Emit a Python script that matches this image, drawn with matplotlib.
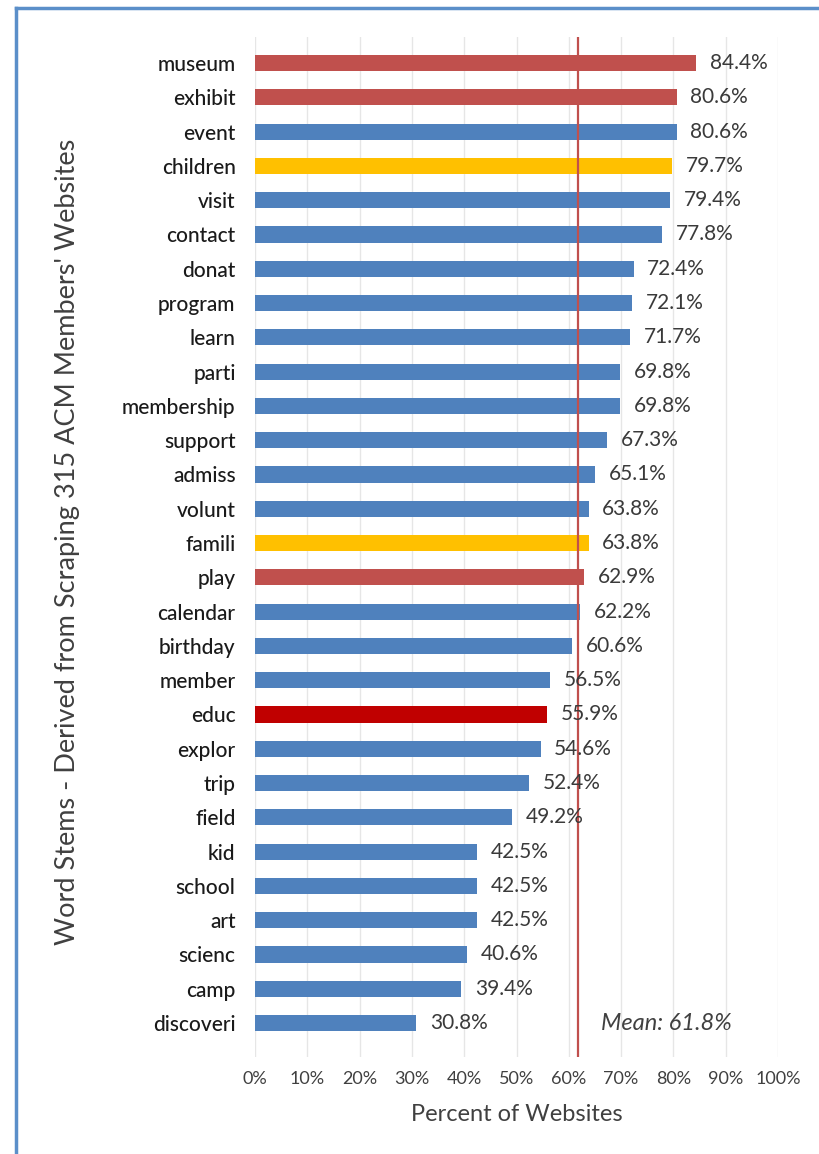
import matplotlib
matplotlib.use("Agg")
import matplotlib.pyplot as plt
from matplotlib.lines import Line2D

stems = ["museum", "exhibit", "event", "children", "visit", "contact", "donat",
         "program", "learn", "parti", "membership", "support", "admiss", "volunt",
         "famili", "play", "calendar", "birthday", "member", "educ", "explor",
         "trip", "field", "kid", "school", "art", "scienc", "camp", "discoveri"]
percents = [84.4, 80.6, 80.6, 79.7, 79.4, 77.8, 72.4, 72.1, 71.7, 69.8, 69.8,
            67.3, 65.1, 63.8, 63.8, 62.9, 62.2, 60.6, 56.5, 55.9, 54.6, 52.4,
            49.2, 42.5, 42.5, 42.5, 40.6, 39.4, 30.8]
groups = ["red", "red", "blue", "yellow", "blue", "blue", "blue", "blue", "blue",
          "blue", "blue", "blue", "blue", "blue", "yellow", "red", "blue", "blue",
          "blue", "darkred", "blue", "blue", "blue", "blue", "blue", "blue",
          "blue", "blue", "blue"]
mean_value = 61.8
xticks = [0, 10, 20, 30, 40, 50, 60, 70, 80, 90, 100]
xticklabels = [f"{t}%" for t in xticks]

palette = {"blue": "#4F81BD", "red": "#C0504D", "yellow": "#FFC000",
           "darkred": "#C00000"}

plt.rcParams['font.family'] = ['Lato', 'DejaVu Sans']

fig = plt.figure(figsize=(8.19, 11.54), dpi=100)
ax = fig.add_axes([255/819, 1 - 1057/1154, (778 - 255)/819, (1057 - 37)/1154])

ypos = list(range(len(stems)))
ax.barh(ypos, percents, height=0.47, color=[palette[g] for g in groups], zorder=2)
for y, v in zip(ypos, percents):
    ax.text(v + 2.6, y, f"{v:.1f}%", va="center", ha="left", fontsize=15,
            color="#3a3a3a", zorder=4)

ax.set_xlim(0, 100)
ax.set_ylim(28.99, -0.76)
ax.set_yticks(ypos)
ax.set_yticklabels(stems, fontsize=15, color="#1a1a1a", fontweight="medium")
ax.set_xticks(xticks)
ax.set_xticklabels(xticklabels, fontsize=13, color="#404040")
ax.tick_params(axis="both", length=0)
ax.tick_params(axis="y", pad=14)
ax.tick_params(axis="x", pad=10)
ax.grid(axis="x", color="#E6E6E6", linewidth=1, zorder=0)
for s in ax.spines.values():
    s.set_visible(False)

ax.axvline(mean_value, color="#C0504D", linewidth=1.6, zorder=3)
ax.text(66.2, 28, f"Mean: {mean_value}%", style="italic", fontsize=17,
        color="#404040", va="center", ha="left")

ax.set_xlabel("Percent of Websites", fontsize=17, color="#404040", labelpad=12)
fig.text(68/819, 1 - 542/1154,
         "Word Stems - Derived from Scraping 315 ACM Members' Websites",
         rotation=90, fontsize=19.5, color="#404040", ha="center", va="center")

# blue frame edges
fig.add_artist(Line2D([16/819, 1], [1 - 8/1154, 1 - 8/1154], color="#5B8FC9",
                      linewidth=2.5, transform=fig.transFigure))
fig.add_artist(Line2D([16/819, 16/819], [0, 1 - 8/1154], color="#5B8FC9",
                      linewidth=2.5, transform=fig.transFigure))

fig.savefig("out.png", dpi=100)
